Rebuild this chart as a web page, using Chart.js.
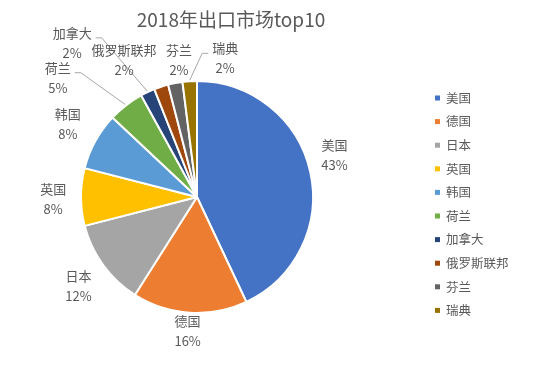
<!DOCTYPE html>
<html>
<head>
<meta charset="utf-8">
<script src="https://cdn.jsdelivr.net/npm/chart.js@4.4.0/dist/chart.umd.min.js"></script>
<style>
  html, body { margin: 0; padding: 0; background: #fff; }
  canvas { display: block; }
</style>
</head>
<body>
<canvas id="pie" width="554" height="368"></canvas>
<script>
const TITRE = '2018年出口市场top10';
const PAYS = ['美国', '德国', '日本', '英国', '韩国', '荷兰', '加拿大', '俄罗斯联邦', '芬兰', '瑞典'];
const PARTS = [43, 16, 12, 8, 8, 5, 2, 2, 2, 2];
const COULEURS = ['#4472C4', '#ED7D31', '#A5A5A5', '#FFC000', '#5B9BD5', '#70AD47', '#264478', '#9E480E', '#636363', '#997300'];

// placement des étiquettes autour de la tarte : décalage d'angle (degrés), distance (x rayon), trait de rappel
const ETIQ_ANGLE = [-4.4, 0.4, -1, -1, 0.7, -11.6, -13.8, -10, 3.3, 15.1];
const ETIQ_DIST = [1.24, 1.16, 1.28, 1.24, 1.28, 1.58, 1.71, 1.34, 1.19, 1.22];
const ETIQ_TRAIT = [false, false, false, false, false, true, true, false, false, true];

const POLICE = '"Noto Sans CJK SC", "Noto Sans", sans-serif';
const GRIS = '#595959';

const etiquettes = {
  id: 'etiquettes',
  afterDraw(chart) {
    const ctx = chart.ctx;
    const arcs = chart.getDatasetMeta(0).data;
    ctx.save();

    // titre
    ctx.fillStyle = GRIS;
    ctx.font = '19px ' + POLICE;
    ctx.textAlign = 'center';
    ctx.textBaseline = 'middle';
    ctx.fillText(TITRE, 231, 20);

    // étiquettes des parts
    ctx.font = '13px ' + POLICE;
    arcs.forEach((arc, i) => {
      const p = arc.getProps(['x', 'y', 'startAngle', 'endAngle', 'outerRadius'], true);
      const mid = (p.startAngle + p.endAngle) / 2;
      const a = mid + ETIQ_ANGLE[i] * Math.PI / 180;
      const d = p.outerRadius * ETIQ_DIST[i];
      const lx = p.x + Math.cos(a) * d;
      const ly = p.y + Math.sin(a) * d;

      if (ETIQ_TRAIT[i]) {
        const ex = p.x + Math.cos(mid) * (p.outerRadius + 1);
        const ey = p.y + Math.sin(mid) * (p.outerRadius + 1);
        const w = ctx.measureText(PAYS[i]).width;
        const cote = lx < ex ? 1 : -1;
        const x0 = lx + cote * (w / 2 + 4);
        const y0 = ly - 5;
        ctx.strokeStyle = '#a6a6a6';
        ctx.lineWidth = 1;
        ctx.beginPath();
        ctx.moveTo(x0, y0);
        ctx.lineTo(x0 + cote * 6, y0);
        ctx.lineTo(ex, ey);
        ctx.stroke();
      }

      ctx.fillStyle = GRIS;
      ctx.fillText(PAYS[i], lx, ly - 10);
      ctx.fillText(PARTS[i] + '%', lx, ly + 10);
    });

    // légende
    ctx.font = '12.5px ' + POLICE;
    ctx.textAlign = 'left';
    PAYS.forEach((nom, i) => {
      const y = 98 + i * 23.6;
      ctx.fillStyle = COULEURS[i];
      ctx.fillRect(435, y - 2.5, 5, 5);
      ctx.fillStyle = GRIS;
      ctx.fillText(nom, 446, y);
    });

    ctx.restore();
  }
};

const data = {
  labels: PAYS,
  datasets: [
    {
      data: PARTS,
      backgroundColor: COULEURS,
      borderColor: '#ffffff',
      borderWidth: 2,
    }
  ]
};

const config = {
  type: 'pie',
  data: data,
  options: {
    responsive: false,
    animation: false,
    layout: {
      padding: { left: 80, top: 80, right: 240, bottom: 54 }
    },
    plugins: {
      legend: { display: false },
      tooltip: { enabled: false },
      title: { display: false }
    }
  },
  plugins: [etiquettes]
};

const pie = new Chart(document.getElementById('pie'), config);
</script>
</body>
</html>
